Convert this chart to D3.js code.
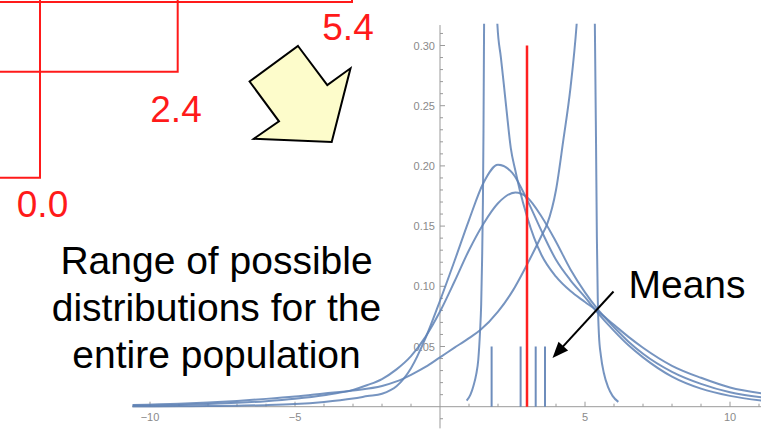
<!DOCTYPE html>
<html>
<head>
<meta charset="utf-8">
<script src="https://cdn.jsdelivr.net/npm/d3@7"></script>
<style>
  html, body { margin: 0; padding: 0; background: #fff; }
  svg { display: block; }
</style>
</head>
<body>
<svg id="chart" width="761" height="433"></svg>
<script>
// ---- data ----------------------------------------------------------------
// Observed sample values shown in the red bracket sketch
const sampleLabels = ["0.0", "2.4", "5.4"];

// Candidate population densities, tabulated as [x, density] pairs
const curveA = [[-10.6,0.0002],[-9,0.0003],[-8,0.0005],[-7,0.0008],[-6,0.0013],[-5,0.0022],[-4,0.004],[-3,0.0068],[-2.5,0.0088],[-2,0.0108],[-1.5,0.017],[-1,0.032],[-0.5,0.057],[0,0.088],[0.5,0.121],[1,0.155],[1.5,0.186],[2,0.201],[2.5,0.194],[3,0.172],[3.5,0.146],[4,0.122],[4.5,0.105],[5,0.091],[5.4,0.079],[6,0.063],[6.5,0.051],[7,0.041],[8,0.025],[9,0.015],[10,0.009],[11.1,0.005]];
const curveB = [[-10.6,0.001],[-9,0.0015],[-8,0.0022],[-7,0.0032],[-6,0.0046],[-5,0.0066],[-4,0.0095],[-3,0.014],[-2.5,0.018],[-2,0.023],[-1.5,0.031],[-1,0.042],[-0.5,0.058],[0,0.079],[0.5,0.104],[1,0.13],[1.5,0.152],[2,0.169],[2.6,0.178],[3,0.174],[3.5,0.158],[4,0.137],[4.5,0.114],[5,0.095],[5.4,0.082],[6,0.066],[6.5,0.054],[7,0.044],[8,0.029],[9,0.019],[10,0.012],[11.1,0.0078]];
const curveC = [[-10.6,0.0015],[-9,0.0025],[-8,0.0035],[-7,0.0048],[-6,0.0065],[-5,0.0085],[-4,0.011],[-3,0.0135],[-2,0.0172],[-1.5,0.021],[-1,0.0265],[-0.5,0.033],[0,0.041],[0.5,0.049],[1,0.057],[1.38,0.0635],[2,0.079],[2.5,0.096],[3,0.118],[3.5,0.142],[3.7,0.152],[4,0.18],[4.25,0.221],[4.5,0.265],[4.71,0.317],[4.85,0.37],[5,0.43],[5.15,0.46],[5.28,0.4],[5.34,0.317],[5.38,0.22],[5.41,0.14],[5.44,0.09],[5.48,0.06],[5.55,0.042],[5.65,0.028],[5.8,0.016],[5.95,0.009],[6.15,0.004]];
const curveD = [[0.92,0.005],[1.05,0.01],[1.15,0.017],[1.25,0.027],[1.32,0.039],[1.38,0.062],[1.42,0.085],[1.45,0.12],[1.48,0.17],[1.5,0.23],[1.52,0.317],[1.56,0.4],[1.65,0.47],[1.78,0.45],[1.9,0.37],[1.98,0.317],[2.1,0.29],[2.2,0.268],[2.3,0.245],[2.44,0.215],[2.6,0.196],[2.75,0.18],[3,0.158],[3.25,0.14],[3.5,0.126],[4,0.108],[4.5,0.096],[5,0.087],[5.4,0.08],[6,0.068],[6.5,0.058],[7,0.049],[8,0.034],[9,0.024],[10,0.016],[11.1,0.011]];
const densityCurves = [curveA, curveB, curveC, curveD];

// Means of the candidate distributions and the overall mean
const meanValues = [1.78, 2.78, 3.30, 3.62];
const meanMarkHeight = 0.05;
const overallMean = 3.0;
const overallMarkHeight = 0.30;

// Tick values
const xMajorTicks = [-10, -5, 5, 10];
const xTickLabels = ["\u221210", "\u22125", "5", "10"];
const yMajorTicks = [0.05, 0.10, 0.15, 0.20, 0.25, 0.30];
const yTickLabels = ["0.05", "0.10", "0.15", "0.20", "0.25", "0.30"];

// ---- drawing ---------------------------------------------------------------
const svg = d3.select("#chart");
const FONT = "'Liberation Sans', Arial, Helvetica, sans-serif";

const x = d3.scaleLinear().domain([-10, 10]).range([150, 730]);
const y = d3.scaleLinear().domain([0, 0.30]).range([406.7, 45.5]);

// Red bracket sketch of the sample (upper left)
const red = "#ff1a1a";
const bracket = svg.append("g").attr("stroke", red).attr("stroke-width", 2).attr("fill", "none");
bracket.append("path").attr("d", "M0,2 H352 V-4");
bracket.append("path").attr("d", "M40,-4 V177.7 H0");
bracket.append("path").attr("d", "M177.7,-4 V71.7 H0");

const redLabelPos = [[42.5, 217], [176, 122], [348, 40]];
svg.append("g").selectAll("text").data(sampleLabels).join("text")
  .attr("x", (d, i) => redLabelPos[i][0])
  .attr("y", (d, i) => redLabelPos[i][1])
  .attr("text-anchor", "middle")
  .attr("font-family", FONT).attr("font-size", 37)
  .attr("fill", red)
  .text(d => d);

// Yellow block arrow pointing down-right
svg.append("polygon")
  .attr("points", "298,46 327.3,85 350.5,68.3 331.7,142 253.8,138.8 279,121.3 249.6,81.5")
  .attr("fill", "#fdfccb").attr("stroke", "#000").attr("stroke-width", 2)
  .attr("stroke-linejoin", "miter");

// Explanatory text
const caption = ["Range of possible", "distributions for the", "entire population"];
const captionY = [273.5, 321, 368];
svg.append("g").selectAll("text").data(caption).join("text")
  .attr("x", 216.5).attr("y", (d, i) => captionY[i])
  .attr("text-anchor", "middle")
  .attr("font-family", FONT).attr("font-size", 39).attr("fill", "#000")
  .text(d => d);

// Axes (Mathematica-like: ticks pointing inward)
const axisColor = "#9a9a9a";
const labelColor = "#8a8a8a";
const axes = svg.append("g");
axes.append("line")
  .attr("x1", x(-10.62)).attr("x2", 761)
  .attr("y1", y(0)).attr("y2", y(0))
  .attr("stroke", axisColor).attr("stroke-width", 1);
axes.append("line")
  .attr("x1", x(0)).attr("x2", x(0))
  .attr("y1", y(0.317)).attr("y2", y(-0.018))
  .attr("stroke", axisColor).attr("stroke-width", 1);

const xMinor = d3.range(-10, 12, 1).filter(v => v !== 0);
axes.append("g").selectAll("line").data(xMinor).join("line")
  .attr("x1", d => x(d)).attr("x2", d => x(d))
  .attr("y1", y(0)).attr("y2", d => y(0) - (d % 5 === 0 ? 5 : 3))
  .attr("stroke", axisColor).attr("stroke-width", 1);

const yMinor = d3.range(-1, 32, 1).map(v => v / 100).filter(v => v !== 0);
axes.append("g").selectAll("line").data(yMinor).join("line")
  .attr("x1", x(0)).attr("x2", d => x(0) + (Math.round(d * 100) % 5 === 0 ? 5 : 3))
  .attr("y1", d => y(d)).attr("y2", d => y(d))
  .attr("stroke", axisColor).attr("stroke-width", 1);

axes.append("g").selectAll("text").data(xMajorTicks).join("text")
  .attr("x", d => x(d)).attr("y", y(0) + 14)
  .attr("text-anchor", "middle")
  .attr("font-family", FONT).attr("font-size", 11).attr("fill", labelColor)
  .text((d, i) => xTickLabels[i]);

axes.append("g").selectAll("text").data(yMajorTicks).join("text")
  .attr("x", x(0) - 5).attr("y", d => y(d) + 4)
  .attr("text-anchor", "end")
  .attr("font-family", FONT).attr("font-size", 11).attr("fill", labelColor)
  .text((d, i) => yTickLabels[i]);

// Density curves, clipped to the plotting region
svg.append("defs").append("clipPath").attr("id", "plotClip")
  .append("rect").attr("x", x(-10.62)).attr("y", y(0.318))
  .attr("width", 761 - x(-10.62)).attr("height", y(0) - y(0.318) + 1);

const blue = "#5e81b5";
const line = d3.line().x(d => x(d[0])).y(d => y(d[1])).curve(d3.curveMonotoneX);
svg.append("g").attr("clip-path", "url(#plotClip)")
  .selectAll("path").data(densityCurves).join("path")
  .attr("d", line)
  .attr("fill", "none").attr("stroke", blue).attr("stroke-width", 2)
  .attr("stroke-opacity", 0.85);

// Means of each candidate distribution
svg.append("g").selectAll("line").data(meanValues).join("line")
  .attr("x1", d => x(d)).attr("x2", d => x(d))
  .attr("y1", y(0)).attr("y2", y(meanMarkHeight))
  .attr("stroke", blue).attr("stroke-width", 2).attr("stroke-opacity", 0.9);

// Overall mean
svg.append("line")
  .attr("x1", x(overallMean)).attr("x2", x(overallMean))
  .attr("y1", y(0)).attr("y2", y(overallMarkHeight))
  .attr("stroke", "#ff2020").attr("stroke-width", 2.5);

// "Means" label with pointer arrow
svg.append("text")
  .attr("x", 687).attr("y", 298)
  .attr("text-anchor", "middle")
  .attr("font-family", FONT).attr("font-size", 39).attr("fill", "#000")
  .text("Means");

const arrowFrom = [613.5, 291.5], arrowTo = [552.5, 358];
const dx = arrowTo[0] - arrowFrom[0], dy = arrowTo[1] - arrowFrom[1];
const len = Math.hypot(dx, dy), ux = dx / len, uy = dy / len;
const headLen = 16, headHalf = 6.5;
const bx = arrowTo[0] - ux * headLen, by = arrowTo[1] - uy * headLen;
svg.append("line")
  .attr("x1", arrowFrom[0]).attr("y1", arrowFrom[1])
  .attr("x2", bx + ux * 2).attr("y2", by + uy * 2)
  .attr("stroke", "#000").attr("stroke-width", 2);
svg.append("polygon")
  .attr("points", [
    [arrowTo[0], arrowTo[1]],
    [bx - uy * headHalf, by + ux * headHalf],
    [bx + uy * headHalf, by - ux * headHalf]
  ].map(p => p.join(",")).join(" "))
  .attr("fill", "#000");
</script>
</body>
</html>
